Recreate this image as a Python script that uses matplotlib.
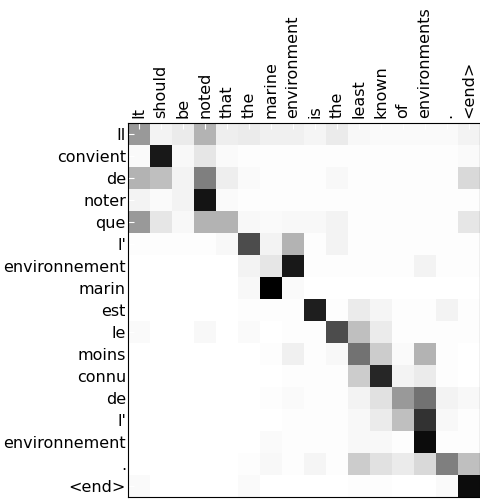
import matplotlib
matplotlib.use("Agg")
import matplotlib.pyplot as plt
import numpy as np

# source (English) words along the top, output (French) words down the side
src_words = ["It", "should", "be", "noted", "that", "the", "marine", "environment",
             "is", "the", "least", "known", "of", "environments", ".", "<end>"]
out_words = ["Il", "convient", "de", "noter", "que", "l'", "environnement", "marin",
             "est", "le", "moins", "connu", "de", "l'", "environnement", ".", "<end>"]

# attention weights, one row per output word
att_il = [0.40, 0.05, 0.08, 0.30, 0.07, 0.08, 0.06, 0.06, 0.04, 0.08, 0.03, 0.02, 0.02, 0.02, 0.02, 0.05]
att_convient = [0.02, 0.90, 0.03, 0.10, 0.02, 0.01, 0.01, 0.01, 0.01, 0.01, 0.01, 0.01, 0.01, 0.01, 0.01, 0.02]
att_de1 = [0.30, 0.25, 0.05, 0.50, 0.07, 0.02, 0.01, 0.01, 0.01, 0.03, 0.01, 0.01, 0.01, 0.01, 0.01, 0.15]
att_noter = [0.05, 0.02, 0.05, 0.92, 0.02, 0.01, 0.01, 0.01, 0.01, 0.01, 0.01, 0.01, 0.01, 0.01, 0.01, 0.01]
att_que = [0.40, 0.10, 0.03, 0.30, 0.30, 0.03, 0.02, 0.03, 0.03, 0.05, 0.01, 0.01, 0.01, 0.01, 0.01, 0.10]
att_l1 = [0.01, 0.01, 0.01, 0.01, 0.03, 0.70, 0.05, 0.30, 0.01, 0.05, 0.01, 0.01, 0.01, 0.01, 0.01, 0.01]
att_env1 = [0.00, 0.00, 0.00, 0.00, 0.00, 0.05, 0.10, 0.90, 0.01, 0.01, 0.01, 0.01, 0.01, 0.05, 0.01, 0.01]
att_marin = [0.00, 0.00, 0.00, 0.00, 0.00, 0.03, 1.00, 0.02, 0.00, 0.00, 0.00, 0.00, 0.00, 0.00, 0.00, 0.00]
att_est = [0.00, 0.00, 0.00, 0.00, 0.00, 0.01, 0.01, 0.01, 0.88, 0.01, 0.08, 0.04, 0.01, 0.01, 0.05, 0.01]
att_le = [0.02, 0.00, 0.00, 0.03, 0.00, 0.02, 0.00, 0.01, 0.01, 0.70, 0.25, 0.08, 0.01, 0.01, 0.01, 0.01]
att_moins = [0.00, 0.00, 0.00, 0.00, 0.00, 0.00, 0.01, 0.06, 0.01, 0.03, 0.55, 0.20, 0.02, 0.30, 0.01, 0.00]
att_connu = [0.00, 0.00, 0.00, 0.00, 0.00, 0.00, 0.00, 0.01, 0.01, 0.01, 0.20, 0.85, 0.05, 0.08, 0.01, 0.00]
att_de2 = [0.00, 0.00, 0.00, 0.00, 0.00, 0.00, 0.01, 0.02, 0.01, 0.01, 0.05, 0.12, 0.40, 0.55, 0.05, 0.03]
att_l2 = [0.00, 0.00, 0.00, 0.00, 0.00, 0.00, 0.00, 0.01, 0.01, 0.01, 0.03, 0.08, 0.25, 0.80, 0.03, 0.01]
att_env2 = [0.00, 0.00, 0.00, 0.00, 0.00, 0.00, 0.02, 0.01, 0.01, 0.01, 0.03, 0.03, 0.01, 0.95, 0.01, 0.01]
att_dot = [0.00, 0.00, 0.00, 0.00, 0.00, 0.01, 0.03, 0.01, 0.04, 0.01, 0.20, 0.12, 0.08, 0.15, 0.50, 0.25]
att_end = [0.02, 0.00, 0.00, 0.00, 0.00, 0.02, 0.00, 0.00, 0.00, 0.00, 0.01, 0.01, 0.00, 0.00, 0.02, 0.95]

attention = np.array([att_il, att_convient, att_de1, att_noter, att_que, att_l1, att_env1,
                      att_marin, att_est, att_le, att_moins, att_connu, att_de2, att_l2,
                      att_env2, att_dot, att_end])

fig = plt.figure(figsize=(4.81, 5.0), dpi=100)
ax = fig.add_axes([128 / 481, 3 / 500, 352 / 481, 374 / 500])
ax.imshow(attention, cmap="gray_r", vmin=0, vmax=1, aspect="auto", interpolation="nearest")

ax.set_xticks(range(len(src_words)))
ax.set_xticklabels(src_words, rotation=90)
ax.set_yticks(range(len(out_words)))
ax.set_yticklabels(out_words)
ax.xaxis.tick_top()
ax.tick_params(direction="in", length=4, color="white", labelsize=11.5)
ax.tick_params(axis="x", pad=3.5)
ax.tick_params(axis="y", pad=1.5)

fig.savefig("out.png", dpi=100)
